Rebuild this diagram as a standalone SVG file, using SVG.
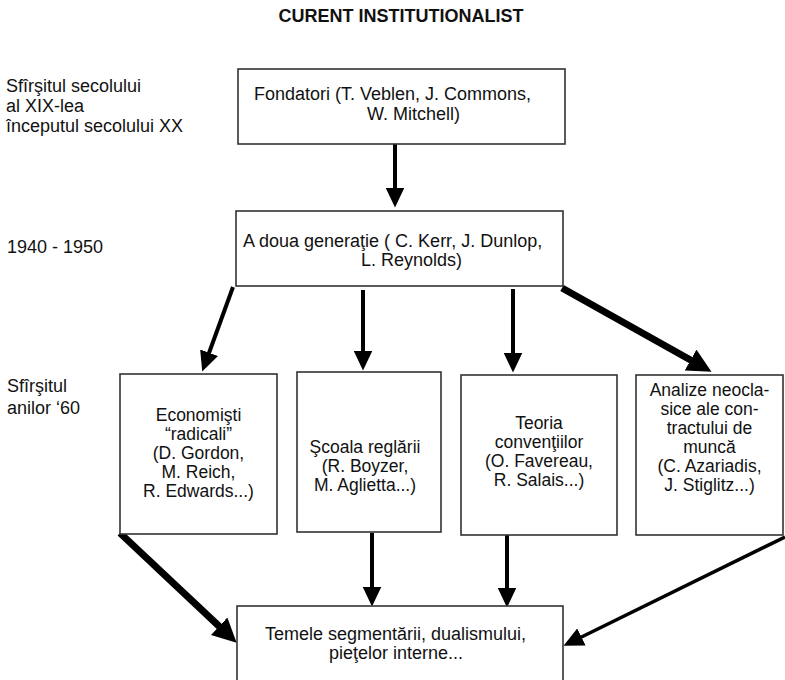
<svg xmlns="http://www.w3.org/2000/svg" width="785" height="680" viewBox="0 0 785 680">
<style>
text{font-family:"Liberation Sans",Arial,sans-serif;font-size:18px;fill:#111}
.title{font-weight:bold;font-size:18px}
.c{text-anchor:middle;font-size:17.5px}
rect{fill:#fff;stroke:#333;stroke-width:1.6}
.a{stroke:#000;stroke-width:4;fill:none;marker-end:url(#ah)}
.t{stroke:#000;stroke-width:7;fill:none;marker-end:url(#ahL)}
.n{stroke:#000;stroke-width:3.5;fill:none;marker-end:url(#ah)}
</style>
<defs>
<marker id="ah" markerUnits="userSpaceOnUse" markerWidth="21" markerHeight="19" refX="0.5" refY="9.5" orient="auto"><path d="M0,0 L20,9.5 L0,19 z" fill="#000"/></marker>
<marker id="ahL" markerUnits="userSpaceOnUse" markerWidth="25" markerHeight="24" refX="0.5" refY="12" orient="auto"><path d="M0,0 L24,12 L0,24 z" fill="#000"/></marker>
</defs>
<rect x="0" y="0" width="785" height="680" style="fill:#fff;stroke:none"/>
<text class="title" x="401" y="22" text-anchor="middle">CURENT INSTITUTIONALIST</text>
<g id="labels">
<text x="6" y="92">Sfîrşitul secolului</text>
<text x="6" y="112">al XIX-lea</text>
<text x="6" y="132">începutul secolului XX</text>
<text x="7" y="253">1940 - 1950</text>
<text x="7" y="392">Sfîrşitul</text>
<text x="7" y="414">anilor ‘60</text>
</g>
<g id="connectors">
<line class="a" x1="395" y1="144" x2="395" y2="188"/>
<line class="a" x1="233" y1="287" x2="208.9" y2="353.2"/>
<line class="a" x1="363" y1="290" x2="363" y2="351"/>
<line class="a" x1="513" y1="289" x2="513" y2="353"/>
<line class="t" x1="562" y1="288" x2="691" y2="360.3"/>
<line class="t" x1="120" y1="533" x2="219.5" y2="626.6"/>
<line class="a" x1="372" y1="533" x2="372" y2="587"/>
<line class="a" x1="507" y1="535" x2="507" y2="588"/>
<line class="n" x1="785" y1="537" x2="581" y2="637.2"/>
</g>
<g id="fondatori">
<rect x="238" y="69" width="327" height="75"/>
<text x="254" y="100">Fondatori (T. Veblen, J. Commons,</text>
<text x="367" y="120">W. Mitchell)</text>
</g>
<g id="generatia2">
<rect x="236" y="211" width="327" height="75"/>
<text x="243" y="247">A doua generaţie ( C. Kerr, J. Dunlop,</text>
<text x="361" y="266">L. Reynolds)</text>
</g>
<g id="radicali">
<rect x="120" y="374" width="157" height="160"/>
<text class="c" x="198.5" y="421">Economişti</text>
<text class="c" x="198.5" y="440">“radicali”</text>
<text class="c" x="198.5" y="459">(D. Gordon,</text>
<text class="c" x="198.5" y="478">M. Reich,</text>
<text class="c" x="198.5" y="497">R. Edwards...)</text>
</g>
<g id="reglare">
<rect x="297" y="372" width="144" height="160"/>
<text class="c" x="365" y="453">Şcoala reglării</text>
<text class="c" x="365" y="472">(R. Boyzer,</text>
<text class="c" x="365" y="491">M. Aglietta...)</text>
</g>
<g id="conventii">
<rect x="461" y="375" width="156" height="160"/>
<text class="c" x="539" y="429">Teoria</text>
<text class="c" x="539" y="448">convenţiilor</text>
<text class="c" x="539" y="467">(O. Favereau,</text>
<text class="c" x="539" y="486">R. Salais...)</text>
</g>
<g id="neoclasice">
<rect x="636" y="375" width="147" height="160"/>
<text class="c" x="709.5" y="396">Analize neocla-</text>
<text class="c" x="709.5" y="415">sice ale con-</text>
<text class="c" x="709.5" y="434">tractului de</text>
<text class="c" x="709.5" y="453">muncă</text>
<text class="c" x="709.5" y="472">(C. Azariadis,</text>
<text class="c" x="709.5" y="491">J. Stiglitz...)</text>
</g>
<g id="temele">
<rect x="237" y="606" width="326" height="100"/>
<text x="265" y="640">Temele segmentării, dualismului,</text>
<text x="329" y="659">pieţelor interne...</text>
</g>
</svg>
